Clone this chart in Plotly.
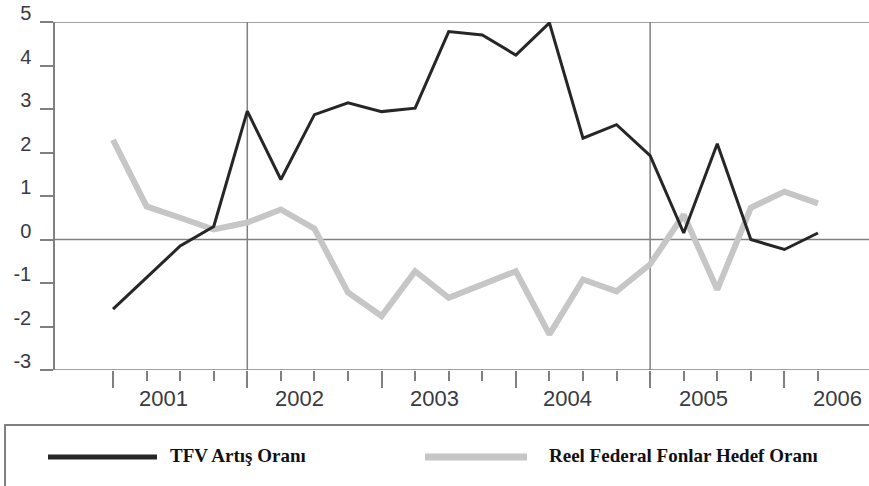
import plotly.graph_objects as go

# Quarterly observations, 2001 through 2006
quarters = list(range(22))
tfv_growth = [-1.6, -0.88, -0.15, 0.3, 2.95, 1.38, 2.87, 3.14, 2.94, 3.02, 4.78, 4.70,
              4.24, 4.98, 2.33, 2.64, 1.93, 0.15, 2.2, 0.0, -0.23, 0.15]
real_ff_target = [2.29, 0.76, 0.5, 0.23, 0.39, 0.69, 0.25, -1.22, -1.76, -0.73, -1.34, -1.03,
                  -0.73, -2.18, -0.92, -1.19, -0.57, 0.57, -1.15, 0.73, 1.1, 0.83]
year_labels = ["2001", "2002", "2003", "2004", "2005", "2006"]
year_label_pos = [1.5, 5.55, 9.58, 13.55, 17.6, 21.57]
y_ticks = [-3, -2, -1, 0, 1, 2, 3, 4, 5]
y_tick_text = ["-3", "-2", "-1", "0", "1", "2", "3", "4", "5"]
series_names = ["TFV Artış Oranı", "Reel Federal Fonlar Hedef Oranı"]

major_ticks = [q for q in quarters if q % 4 == 0]
minor_ticks = [q for q in quarters if q % 4 != 0]

AX = "#808080"
TXT = "#3a3a42"

fig = go.Figure()
fig.add_trace(go.Scatter(x=quarters, y=real_ff_target, mode="lines",
                         line=dict(color="#c6c6c6", width=6), name=series_names[1]))
fig.add_trace(go.Scatter(x=quarters, y=tfv_growth, mode="lines",
                         line=dict(color="#262626", width=3), name=series_names[0]))

shapes = []
for yv in [5, 0, -3]:
    shapes.append(dict(type="line", xref="paper", yref="y", x0=0, x1=1, y0=yv, y1=yv,
                       line=dict(color=AX, width=1.5), layer="below"))
for xv in [4, 16]:
    shapes.append(dict(type="line", xref="x", yref="y", x0=xv, x1=xv, y0=-3, y1=5,
                       line=dict(color=AX, width=1.5), layer="below"))
shapes.append(dict(type="rect", xref="paper", yref="paper", x0=-0.0614, x1=1.05,
                   y0=-0.6, y1=-0.158, line=dict(color=AX, width=2), fillcolor="rgba(0,0,0,0)"))
shapes.append(dict(type="line", xref="paper", yref="paper", x0=-0.0086, x1=0.1253,
                   y0=-0.25, y1=-0.25, line=dict(color="#262626", width=5)))
shapes.append(dict(type="line", xref="paper", yref="paper", x0=0.4545, x1=0.5799,
                   y0=-0.25, y1=-0.25, line=dict(color="#c6c6c6", width=7)))

annotations = []
for lab, pos in zip(year_labels, year_label_pos):
    annotations.append(dict(text=lab, x=pos, xref="x", y=-0.0805, yref="paper",
                            xanchor="center", yanchor="middle", showarrow=False,
                            font=dict(family="Liberation Sans, Arial", size=22, color=TXT)))
for name, xp in zip(series_names, [0.1388, 0.6044]):
    annotations.append(dict(text="<b>" + name + "</b>", x=xp, xref="paper", y=-0.247,
                            yref="paper", xanchor="left", yanchor="middle", showarrow=False,
                            font=dict(family="Liberation Serif, Times New Roman", size=19,
                                      color="#111")))

fig.update_layout(
    width=869, height=486, autosize=False,
    margin=dict(l=55, r=0, t=22, b=116, pad=0),
    paper_bgcolor="white", plot_bgcolor="white",
    showlegend=False,
    shapes=shapes, annotations=annotations,
    xaxis=dict(range=[-1.728, 22.52], showgrid=False, zeroline=False, showline=False,
               tickmode="array", tickvals=major_ticks, ticks="outside", ticklen=17,
               tickwidth=2, tickcolor=AX, showticklabels=False,
               minor=dict(tickmode="array", tickvals=minor_ticks, ticks="outside",
                          ticklen=10, tickwidth=1.5, tickcolor=AX, showgrid=False)),
    yaxis=dict(range=[-3, 5], showgrid=False, zeroline=False, showline=True,
               linecolor=AX, linewidth=1.5, tickvals=y_ticks, ticktext=y_tick_text,
               ticks="outside", ticklen=13, tickwidth=1.5, tickcolor=AX,
               ticklabelstandoff=5, ticklabelshift=-9,
               tickfont=dict(family="Liberation Sans, Arial", size=20, color=TXT)),
)

fig.write_html("out.html", config={"displayModeBar": False},
               post_script="document.body.style.margin='0px';document.body.style.overflow='hidden';")
